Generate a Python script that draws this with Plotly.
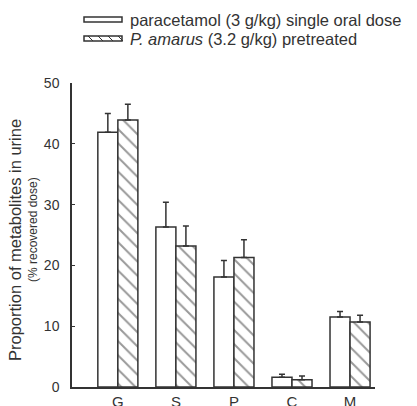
import plotly.graph_objects as go

categories = ["G", "S", "P", "C", "M"]
single_dose = [41.9, 26.3, 18.1, 1.6, 11.5]
single_dose_err = [3.1, 4.1, 2.7, 0.5, 0.9]
pretreated = [43.9, 23.2, 21.3, 1.2, 10.7]
pretreated_err = [2.6, 3.3, 2.9, 0.6, 1.1]
y_ticks = [0, 10, 20, 30, 40, 50]

ink = "#333333"
font = "Liberation Sans, Arial, sans-serif"

W, H = 417, 406
L, R, T, B = 72, 42, 83, 19
pw, ph = W - L - R, H - T - B

def px(x):
    return (x - L) / pw

def py(y):
    return (H - B - y) / ph

fig = go.Figure()
fig.add_trace(go.Bar(
    x=categories, y=single_dose, name="paracetamol (3 g/kg) single oral dose",
    marker=dict(color="white", line=dict(color=ink, width=1.5)),
    error_y=dict(type="data", symmetric=False, array=single_dose_err,
                 arrayminus=[0] * len(categories), color=ink, thickness=1.5, width=3),
))
fig.add_trace(go.Bar(
    x=categories, y=pretreated, name="P. amarus (3.2 g/kg) pretreated",
    marker=dict(color="white", line=dict(color=ink, width=1.5),
                pattern=dict(shape="\\", size=10, solidity=0.2, fgcolor=ink, bgcolor="white")),
    error_y=dict(type="data", symmetric=False, array=pretreated_err,
                 arrayminus=[0] * len(categories), color=ink, thickness=1.5, width=3),
))

fig.update_layout(
    width=W, height=H,
    margin=dict(l=L, r=R, t=T, b=B, pad=0),
    paper_bgcolor="white", plot_bgcolor="white",
    showlegend=False,
    barmode="group", bargap=0.31, bargroupgap=0,
    font=dict(family=font, size=12, color=ink),
)
fig.update_xaxes(
    range=[-0.79, 4.43], showline=True, linecolor=ink, linewidth=1.5,
    showgrid=False, zeroline=False, ticks="", tickfont=dict(size=15, color=ink),
    automargin=False,
)
fig.update_yaxes(
    range=[0, 50], tickvals=y_ticks, showline=True, linecolor=ink, linewidth=1.5,
    showgrid=False, zeroline=False, ticks="inside", ticklen=3, tickcolor=ink,
    tickfont=dict(size=14, color=ink), ticklabelstandoff=8, automargin=False,
)

# y-axis title (two lines)
fig.add_annotation(x=px(15), y=py(240), xref="paper", yref="paper",
                   xanchor="center", yanchor="middle",
                   text="Proportion of metabolites in urine", textangle=-90,
                   showarrow=False, font=dict(size=16.5, color=ink))
fig.add_annotation(x=px(33), y=py(230), xref="paper", yref="paper",
                   xanchor="center", yanchor="middle",
                   text="(% recovered dose)", textangle=-90,
                   showarrow=False, font=dict(size=12, color=ink))

# custom legend
sx0, sx1 = 84, 122
rows = [(17, 22), (36, 41)]
fig.add_shape(type="rect", xref="paper", yref="paper",
              x0=px(sx0), x1=px(sx1), y0=py(rows[0][0]), y1=py(rows[0][1]),
              line=dict(color=ink, width=1.5), fillcolor="white")
fig.add_shape(type="rect", xref="paper", yref="paper",
              x0=px(sx0), x1=px(sx1), y0=py(rows[1][0]), y1=py(rows[1][1]),
              line=dict(color=ink, width=1.5), fillcolor="white")
for xs in range(sx0 + 4, sx1, 10):
    fig.add_shape(type="line", xref="paper", yref="paper",
                  x0=px(xs), x1=px(xs + 5), y0=py(rows[1][0]), y1=py(rows[1][1]),
                  line=dict(color=ink, width=1))
fig.add_annotation(x=px(128), y=py(19.5), xref="paper", yref="paper",
                   xanchor="left", yanchor="middle",
                   text="paracetamol (3 g/kg) single oral dose", showarrow=False,
                   font=dict(size=16.5, color=ink))
fig.add_annotation(x=px(128), y=py(39), xref="paper", yref="paper",
                   xanchor="left", yanchor="middle",
                   text="<i>P. amarus</i> (3.2 g/kg) pretreated", showarrow=False,
                   font=dict(size=16.5, color=ink))

fig.write_html("out.html", config={"displayModeBar": False},
               post_script="document.body.style.margin='0';")
